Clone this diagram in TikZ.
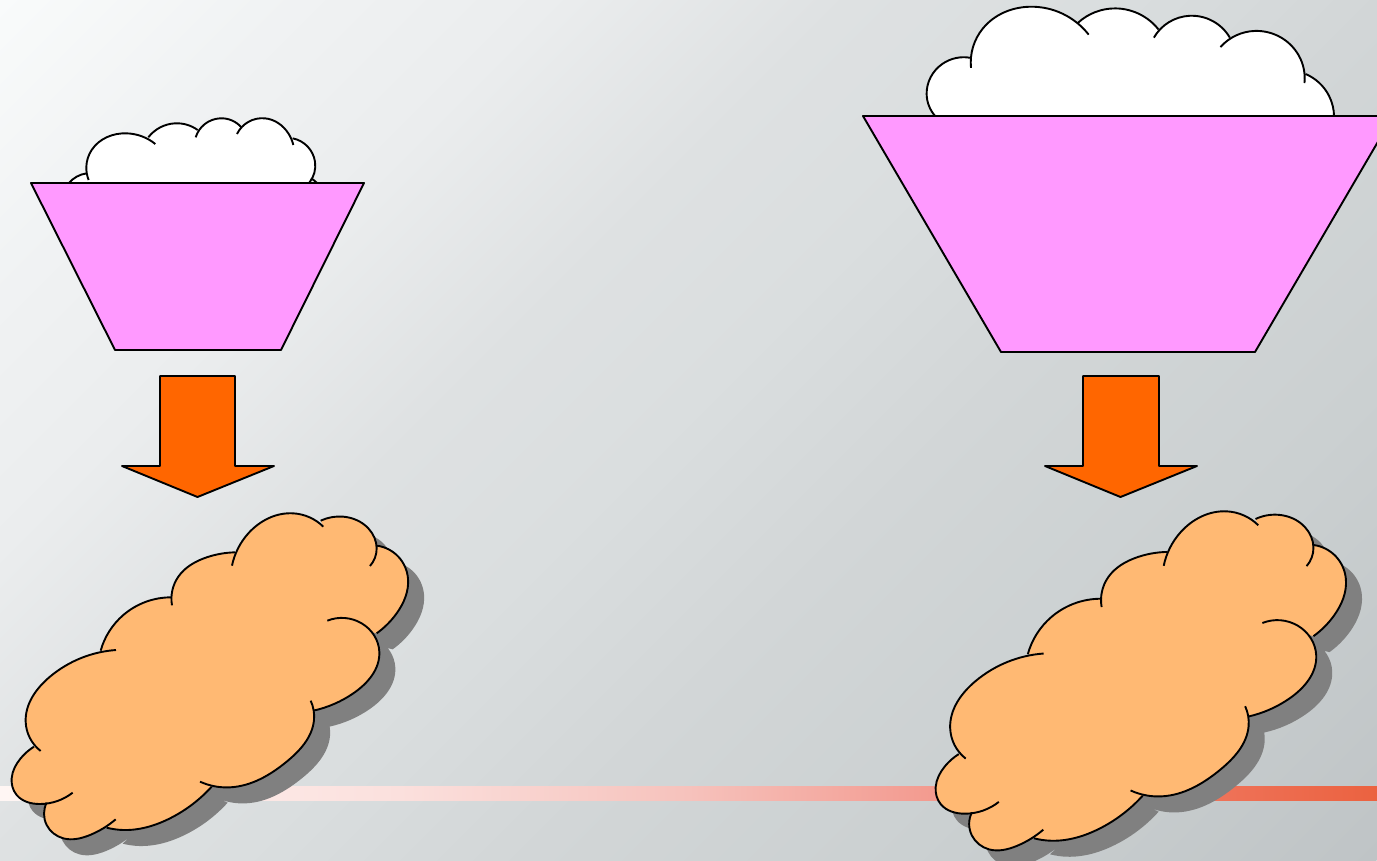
\documentclass[tikz,border=0pt]{standalone}
\usetikzlibrary{hobby}
\definecolor{bgA}{HTML}{F9FBFB}
\definecolor{bgB}{HTML}{F0F2F3}
\definecolor{bgC}{HTML}{EBEDEE}
\definecolor{bgD}{HTML}{DEE1E2}
\definecolor{bgE}{HTML}{DADEDF}
\definecolor{bgG}{HTML}{D2D6D7}
\definecolor{bgH}{HTML}{CBD0D1}
\definecolor{bgF}{HTML}{BFC4C6}
\definecolor{bA}{HTML}{FFF6F4}
\definecolor{bB}{HTML}{FBE0DD}
\definecolor{bC}{HTML}{F6C2BC}
\definecolor{bD}{HTML}{F3A096}
\definecolor{bE}{HTML}{EE7055}
\definecolor{bF}{HTML}{EB6240}
\definecolor{funnel}{HTML}{FF99FF}
\definecolor{arrowfill}{HTML}{FF6600}
\definecolor{cloudfill}{HTML}{FFB973}
\definecolor{shadowgray}{HTML}{808080}
\pgfdeclarehorizontalshading{bgshade}{100bp}{color(0bp)=(bgA);color(25bp)=(bgA);color(31.7bp)=(bgB);color(37.3bp)=(bgC);color(44bp)=(bgD);color(49.5bp)=(bgE);color(56bp)=(bgG);color(64.4bp)=(bgH);color(75bp)=(bgF);color(100bp)=(bgF)}
\pgfdeclarehorizontalshading{bandshade}{100bp}{color(0bp)=(bA);color(25bp)=(bA);color(39.5bp)=(bB);color(50bp)=(bC);color(57.5bp)=(bD);color(70bp)=(bE);color(75bp)=(bF);color(100bp)=(bF)}
\tikzset{
  outline/.style={draw=black,line width=1.9pt,line join=round},
  lobe/.style={draw=black,line width=1.9pt,line cap=butt,fill=none,use Hobby shortcut},
  lobefill/.style={use Hobby shortcut},
}
\newcommand\lobeline[1]{\draw[lobe] #1;}
% orange cloud lobes, clockwise
\newcommand\oA{(122,753) .. (77,665) .. (150,530) .. (348,450)}
\newcommand\oB{(302,452) .. (370,345) .. (515,292)}
\newcommand\oC{(516,316) .. (535,230) .. (620,172) .. (705,157)}
\newcommand\oD{(696,197) .. (745,100) .. (880,40) .. (970,80)}
\newcommand\oE{(962,62) .. (1030,50) .. (1105,85) .. (1130,145) .. (1110,198)}
\newcommand\oF{(1130,137) .. (1195,170) .. (1224,235) .. (1190,340) .. (1130,400)}
\newcommand\oG{(982,362) .. (1085,370) .. (1138,455) .. (1060,580) .. (940,632)}
\newcommand\oH{(932,602) .. (942,660) .. (860,785) .. (690,862) .. (600,845)}
\newcommand\oI{(635,860) .. (510,955) .. (370,990) .. (320,983)}
\newcommand\oJ{(347,958) .. (270,1005) .. (190,1015) .. (140,975) .. (140,908)}
\newcommand\oK{(218,878) .. (120,912) .. (50,885) .. (35,835) .. (62,775) .. (102,740)}
\newcommand\cloudregion{\oA -- \oB -- \oC -- \oD -- \oE -- \oF -- \oG -- \oH -- \oI -- \oJ -- \oK -- cycle}
\newcommand\fillpath[2]{\edef\cloudtmp{\noexpand\fill[lobefill,#1] #2;}\cloudtmp}
\newcommand\strokeexp[1]{\edef\cloudtmp{\noexpand\lobeline{#1}}\cloudtmp}
\newcommand\orangecloud[4]{%
  \begin{scope}[x=#1pt,y=-#2pt,shift={(#3pt+16pt,-#4pt-16pt)}]
    \fillpath{shadowgray}{\cloudregion}
  \end{scope}
  \begin{scope}[x=#1pt,y=-#2pt,shift={(#3pt,-#4pt)}]
    \fillpath{cloudfill}{\cloudregion}
    \strokeexp{\oA}\strokeexp{\oB}\strokeexp{\oC}\strokeexp{\oD}\strokeexp{\oE}\strokeexp{\oF}\strokeexp{\oG}\strokeexp{\oH}\strokeexp{\oI}\strokeexp{\oJ}\strokeexp{\oK}
  \end{scope}}
\begin{document}
\begin{tikzpicture}[x=1pt,y=-1pt]
\useasboundingbox (0,0) rectangle (1377,860);
\clip (0,0) rectangle (1377,860);
\begin{scope}[transform canvas={rotate around={-45:(0,0)}}]
  \shade[shading=bgshade] (0,-1100) rectangle (1582,1100);
\end{scope}
\shade[shading=bandshade] (0,786) rectangle (1377,800);
% left cloud, funnel, arrow
\begin{scope}[x=.33333pt,y=-.33333pt,shift={(20pt,-105pt)}]
  \fillpath{white}{(148,233) .. (170,215) .. (200,205) -- (206,225) .. (215,135) .. (320,85) .. (406,117) -- (385,97) .. (465,55) .. (533,75) -- (527,97) .. (600,40) .. (665,68) -- (651,87) .. (735,40) .. (815,100) .. (820,120) -- (818,100) .. (885,170) .. (868,233) -- (890,233) -- cycle}
  \lobeline{(148,233) .. (170,215) .. (200,205)}
  \lobeline{(206,225) .. (199,185) .. (215,135) .. (320,85) .. (406,117)}
  \lobeline{(385,97) .. (465,55) .. (533,75)}
  \lobeline{(527,97) .. (600,40) .. (665,68)}
  \lobeline{(651,87) .. (735,40) .. (805,85) .. (820,120)}
  \lobeline{(818,100) .. (885,170) .. (868,233)}
  \lobeline{(873,220) .. (882,226) .. (890,233)}
\end{scope}
\draw[outline,fill=funnel] (31,183) -- (364,183) -- (281,350) -- (115,350) -- cycle;
\draw[outline,fill=arrowfill] (160,376) -- (235,376) -- (235,466) -- (274,466) -- (197.5,497) -- (122,466) -- (160,466) -- cycle;
\orangecloud{.33333}{.33333}{0}{500}
% right cloud, funnel, arrow
\begin{scope}[x=.33613pt,y=-.33613pt,shift={(850pt,0pt)}]
  \fillpath{white}{(255,347) .. (228,280) .. (275,190) .. (358,172) -- (360,202) .. (395,85) .. (535,20) .. (710,103) -- (678,68) .. (790,25) .. (918,88) -- (904,112) .. (1010,47) .. (1130,112) -- (1102,140) .. (1205,92) .. (1335,165) .. (1352,247) -- (1355,220) .. (1425,285) .. (1440,347) -- cycle}
  \lobeline{(255,347) .. (228,280) .. (275,190) .. (358,172)}
  \lobeline{(360,202) .. (395,85) .. (535,20) .. (710,103)}
  \lobeline{(678,68) .. (790,25) .. (918,88)}
  \lobeline{(904,112) .. (1010,47) .. (1130,112)}
  \lobeline{(1102,140) .. (1205,92) .. (1335,165) .. (1352,247)}
  \lobeline{(1355,220) .. (1425,285) .. (1440,347)}
\end{scope}
\draw[outline,fill=funnel] (863,116) -- (1393,116) -- (1255,352) -- (1001,352) -- cycle;
\draw[outline,fill=arrowfill] (1083,376) -- (1159,376) -- (1159,466) -- (1197,466) -- (1120.5,497) -- (1045,466) -- (1083,466) -- cycle;
\orangecloud{.345}{.3467}{923.6}{497.5}
\end{tikzpicture}
\end{document}
